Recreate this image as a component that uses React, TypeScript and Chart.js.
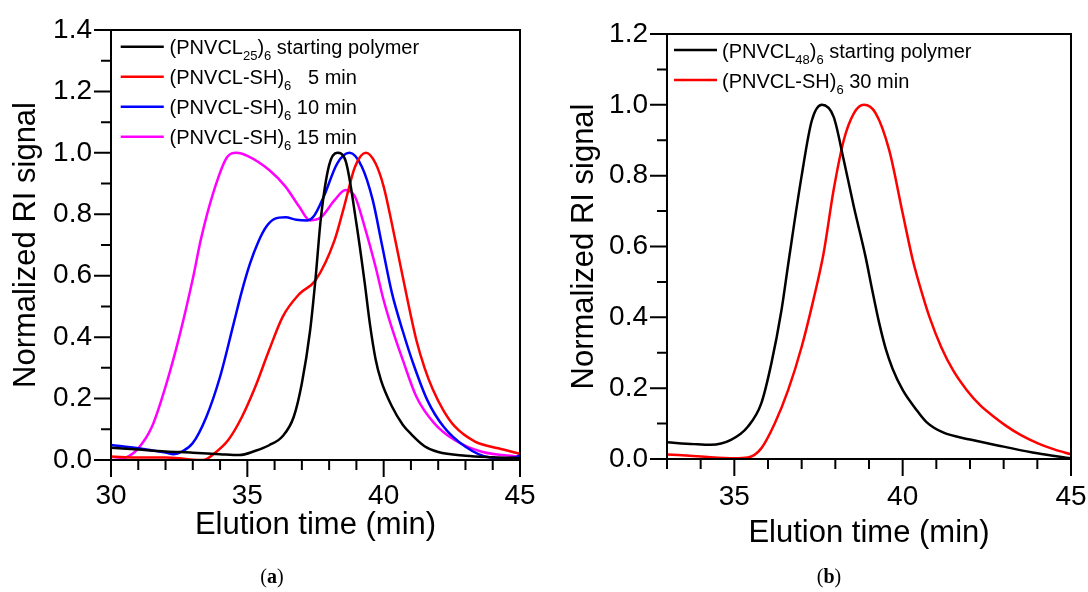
import React, { useEffect, useRef } from 'react';
import { Chart, registerables } from 'chart.js';

Chart.register(...registerables);

const FONT = '"Liberation Sans", Arial, sans-serif';

// ---------- Panel (a) ----------
const aXTicks = [30, 35, 40, 45];
const aYTicks = [0, 0.2, 0.4, 0.6, 0.8, 1.0, 1.2, 1.4];

const aBlackTime = [30, 31, 32, 33, 34, 34.7, 35.3, 35.8, 36.3, 36.7, 37.0, 37.3, 37.5, 37.7, 38.0, 38.3, 38.6, 39.0, 39.3, 39.5, 39.7, 39.9, 40.3, 40.7, 41.0, 41.5, 42.0, 43.0, 44.0, 45.0];
const aBlackSignal = [0.040, 0.034, 0.028, 0.024, 0.019, 0.016, 0.030, 0.048, 0.078, 0.14, 0.25, 0.42, 0.59, 0.79, 0.96, 1.0, 0.975, 0.77, 0.58, 0.44, 0.33, 0.26, 0.175, 0.115, 0.085, 0.045, 0.026, 0.014, 0.009, 0.006];

const aRedTime = [30, 31, 32, 32.5, 33.0, 33.4, 33.8, 34.3, 34.8, 35.3, 35.8, 36.3, 36.9, 37.5, 38.2, 38.55, 38.95, 39.35, 39.7, 40.0, 40.3, 40.6, 40.9, 41.2, 41.5, 41.8, 42.2, 42.6, 43.35, 44.2, 45.0];
const aRedSignal = [0.011, 0.008, 0.008, 0.006, 0.001, 0.0, 0.022, 0.065, 0.14, 0.24, 0.358, 0.467, 0.54, 0.585, 0.716, 0.825, 0.955, 1.0, 0.966, 0.89, 0.77, 0.64, 0.51, 0.39, 0.30, 0.23, 0.16, 0.11, 0.06, 0.038, 0.02];

const aBlueTime = [30, 31, 32, 32.3, 32.6, 33.0, 33.5, 34.0, 34.5, 34.8, 35.1, 35.4, 35.7, 36.0, 36.4, 36.8, 37.2, 37.45, 37.8, 38.3, 38.75, 39.2, 39.6, 39.95, 40.3, 40.7, 41.1, 41.6, 42.2, 43.0, 43.9, 44.5, 44.9, 45.0];
const aBlueSignal = [0.049, 0.038, 0.024, 0.019, 0.027, 0.055, 0.141, 0.271, 0.445, 0.55, 0.64, 0.71, 0.76, 0.785, 0.79, 0.782, 0.78, 0.795, 0.857, 0.966, 1.0, 0.955, 0.846, 0.695, 0.545, 0.42, 0.31, 0.195, 0.108, 0.043, 0.008, 0.006, 0.011, 0.02];

const aMagentaTime = [30, 30.5, 31.0, 31.5, 32.0, 32.5, 33.0, 33.3, 33.75, 34.25, 34.6, 35.0, 35.8, 36.4, 36.9, 37.3, 37.7, 38.2, 38.6, 38.95, 39.3, 39.7, 40.0, 40.3, 40.7, 41.2, 41.85, 42.6, 43.6, 45.0];
const aMagentaSignal = [0.0, 0.006, 0.038, 0.108, 0.239, 0.40, 0.59, 0.72, 0.87, 0.985, 1.0, 0.99, 0.944, 0.89, 0.825, 0.78, 0.79, 0.846, 0.879, 0.857, 0.76, 0.63, 0.52, 0.43, 0.326, 0.206, 0.12, 0.065, 0.027, 0.011];

// legend labels: parts starting with "_" are subscripts
const aLegend1 = ['(PNVCL', '_25', ')', '_6', ' starting polymer'];
const aLegend2 = ['(PNVCL-SH)', '_6', '   5 min'];
const aLegend3 = ['(PNVCL-SH)', '_6', ' 10 min'];
const aLegend4 = ['(PNVCL-SH)', '_6', ' 15 min'];

// ---------- Panel (b) ----------
const bXTicks = [35, 40, 45];
const bYTicks = [0, 0.2, 0.4, 0.6, 0.8, 1.0, 1.2];

const bBlackTime = [33.0, 33.8, 34.3, 34.9, 35.4, 35.8, 36.1, 36.4, 36.6, 37.0, 37.3, 37.6, 37.95, 38.25, 38.55, 38.9, 39.1, 39.3, 39.5, 39.7, 40.0, 40.4, 40.7, 41.2, 42.0, 43.0, 44.0, 45.0];
const bBlackSignal = [0.047, 0.042, 0.040, 0.054, 0.091, 0.157, 0.27, 0.42, 0.55, 0.80, 0.955, 1.0, 0.966, 0.844, 0.712, 0.57, 0.475, 0.385, 0.31, 0.255, 0.195, 0.14, 0.105, 0.075, 0.055, 0.035, 0.016, 0.002];

const bRedTime = [33.0, 34.0, 35.0, 35.4, 35.8, 36.2, 36.6, 37.0, 37.35, 37.65, 37.95, 38.25, 38.55, 38.85, 39.2, 39.6, 40.0, 40.3, 40.6, 40.8, 41.15, 41.5, 41.9, 42.3, 42.7, 43.05, 43.5, 44.0, 44.5, 45.0];
const bRedSignal = [0.013, 0.007, 0.002, 0.004, 0.03, 0.10, 0.195, 0.317, 0.45, 0.58, 0.76, 0.9, 0.976, 1.0, 0.976, 0.872, 0.694, 0.562, 0.46, 0.40, 0.315, 0.25, 0.195, 0.152, 0.12, 0.095, 0.068, 0.045, 0.027, 0.013];

const bLegend1 = ['(PNVCL', '_48', ')', '_6', ' starting polymer'];
const bLegend2 = ['(PNVCL-SH)', '_6', ' 30 min'];

const toPoints = (t: number[], v: number[]) => t.map((x, i) => ({ x, y: v[i] }));

const decorPlugin = {
  id: 'decor',
  afterDraw(chart: any, _args: any, opts: any) {
    const { ctx, chartArea: a, scales } = chart;
    const xs = scales.x;
    const ys = scales.y;
    ctx.save();
    ctx.strokeStyle = '#000';
    ctx.lineWidth = 2;
    ctx.lineCap = 'butt';
    const xMin = Math.round(xs.min);
    const xMax = Math.round(xs.max);
    ctx.beginPath();
    for (let v = xMin; v <= xMax; v++) {
      const px = xs.getPixelForValue(v);
      const len = v % 5 === 0 ? 17 : 10;
      ctx.moveTo(px, a.bottom);
      ctx.lineTo(px, a.bottom + len);
    }
    const nY = Math.round(ys.max / 0.1);
    for (let i = 0; i <= nY; i++) {
      const py = ys.getPixelForValue(i * 0.1);
      const len = i % 2 === 0 ? 17 : 10;
      ctx.moveTo(a.left, py);
      ctx.lineTo(a.left - len, py);
    }
    ctx.stroke();
    ctx.strokeRect(a.left, a.top, a.right - a.left, a.bottom - a.top);

    const L = opts.legend;
    chart.data.datasets.forEach((ds: any, i: number) => {
      const y = a.top + L.top + i * 30;
      ctx.strokeStyle = ds.borderColor;
      ctx.lineWidth = 2.5;
      ctx.beginPath();
      ctx.moveTo(a.left + L.line0, y);
      ctx.lineTo(a.left + L.line1, y);
      ctx.stroke();
      let x = a.left + L.text;
      const base = y + 7.5;
      ctx.fillStyle = '#000';
      ctx.textBaseline = 'alphabetic';
      ctx.textAlign = 'left';
      (L.labels[i] as string[]).forEach((part) => {
        const sub = part.startsWith('_');
        const txt = sub ? part.slice(1) : part;
        ctx.font = (sub ? 13 : 20) + 'px ' + FONT;
        ctx.fillText(txt, x, sub ? base + 6 : base);
        x += ctx.measureText(txt).width;
      });
    });
    ctx.restore();
  },
};

type PanelProps = {
  width: number;
  left: number;
  padding: { left: number; top: number; right: number; bottom: number };
  yWidth: number;
  xMin: number;
  xMax: number;
  yMax: number;
  xTicks: number[];
  yTicks: number[];
  xLabelPad: number;
  xTitlePad: number;
  yTitlePad: number;
  datasets: any[];
  legend: any;
};

function Panel(p: PanelProps) {
  const ref = useRef<HTMLCanvasElement | null>(null);
  useEffect(() => {
    if (!ref.current) return;
    const chart = new Chart(ref.current, {
      type: 'line',
      data: { datasets: p.datasets },
      plugins: [decorPlugin as any],
      options: {
        animation: false,
        responsive: false,
        devicePixelRatio: 1,
        layout: { padding: p.padding },
        plugins: {
          legend: { display: false },
          tooltip: { enabled: false },
          decor: { legend: p.legend },
        } as any,
        elements: { point: { radius: 0 }, line: { borderWidth: 2.5 } },
        scales: {
          x: {
            type: 'linear',
            min: p.xMin,
            max: p.xMax,
            afterFit: (s: any) => { s.height = 100; },
            grid: { display: false, drawTicks: true, tickLength: p.xLabelPad },
            border: { display: false },
            afterBuildTicks: (s: any) => { s.ticks = p.xTicks.map((v) => ({ value: v })); },
            ticks: {
              color: '#000',
              font: { family: FONT, size: 28 },
              padding: 0,
              maxRotation: 0,
              autoSkip: false,
              callback: (v: any) => String(v),
            },
            title: {
              display: true,
              text: 'Elution time (min)',
              color: '#000',
              font: { family: FONT, size: 31 },
              padding: { top: 0, bottom: p.xTitlePad },
            },
          },
          y: {
            type: 'linear',
            min: 0,
            max: p.yMax,
            afterFit: (s: any) => { s.width = p.yWidth; },
            grid: { display: false, drawTicks: true, tickLength: 19 },
            border: { display: false },
            afterBuildTicks: (s: any) => { s.ticks = p.yTicks.map((v) => ({ value: v })); },
            ticks: {
              color: '#000',
              font: { family: FONT, size: 28 },
              padding: 0,
              autoSkip: false,
              callback: (v: any) => Number(v).toFixed(1),
            },
            title: {
              display: true,
              text: 'Normalized RI signal',
              color: '#000',
              font: { family: FONT, size: 31 },
              padding: { top: p.yTitlePad, bottom: 0 },
            },
          },
        },
      } as any,
    });
    return () => chart.destroy();
  }, []);
  return (
    <canvas
      ref={ref}
      width={p.width}
      height={592}
      style={{ position: 'absolute', left: p.left, top: 0, width: p.width, height: 592 }}
    />
  );
}

const lineDs = (label: string, t: number[], v: number[], color: string) => ({
  label,
  data: toPoints(t, v),
  borderColor: color,
  backgroundColor: color,
  borderWidth: 2.5,
  pointRadius: 0,
  cubicInterpolationMode: 'monotone',
  fill: false,
});

export default function App() {
  const aDatasets = [
    lineDs('(PNVCL25)6 starting polymer', aBlackTime, aBlackSignal, '#000000'),
    lineDs('(PNVCL-SH)6 5 min', aRedTime, aRedSignal, '#ff0000'),
    lineDs('(PNVCL-SH)6 10 min', aBlueTime, aBlueSignal, '#0000ff'),
    lineDs('(PNVCL-SH)6 15 min', aMagentaTime, aMagentaSignal, '#ff00ff'),
  ];
  const bDatasets = [
    lineDs('(PNVCL48)6 starting polymer', bBlackTime, bBlackSignal, '#000000'),
    lineDs('(PNVCL-SH)6 30 min', bRedTime, bRedSignal, '#ff0000'),
  ];
  const captionStyle: React.CSSProperties = {
    position: 'absolute',
    top: 565,
    width: 60,
    textAlign: 'center',
    fontFamily: '"Liberation Serif", "DejaVu Serif", serif',
    fontSize: 20,
    color: '#000',
  };
  return (
    <div style={{ position: 'absolute', left: 0, top: 0, width: 1088, height: 592, background: '#fff', overflow: 'hidden' }}>
      <Panel
        width={548}
        left={0}
        padding={{ left: 0, top: 30, right: 28, bottom: 32 }}
        yWidth={111}
        xMin={30}
        xMax={45}
        yMax={1.4}
        xTicks={aXTicks}
        yTicks={aYTicks}
        xLabelPad={19.5}
        xTitlePad={16}
        yTitlePad={7.8}
        datasets={aDatasets}
        legend={{ top: 16.7, line0: 9.7, line1: 52.8, text: 58.6, labels: [aLegend1, aLegend2, aLegend3, aLegend4] }}
      />
      <Panel
        width={540}
        left={548}
        padding={{ left: 0, top: 34, right: 17, bottom: 33 }}
        yWidth={119}
        xMin={33}
        xMax={45}
        yMax={1.2}
        xTicks={bXTicks}
        yTicks={bYTicks}
        xLabelPad={21.5}
        xTitlePad={7}
        yTitlePad={18.3}
        datasets={bDatasets}
        legend={{ top: 16, line0: 7, line1: 50, text: 55, labels: [bLegend1, bLegend2] }}
      />
      <div style={{ ...captionStyle, left: 242 }}>(<b>a</b>)</div>
      <div style={{ ...captionStyle, left: 799 }}>(<b>b</b>)</div>
    </div>
  );
}
